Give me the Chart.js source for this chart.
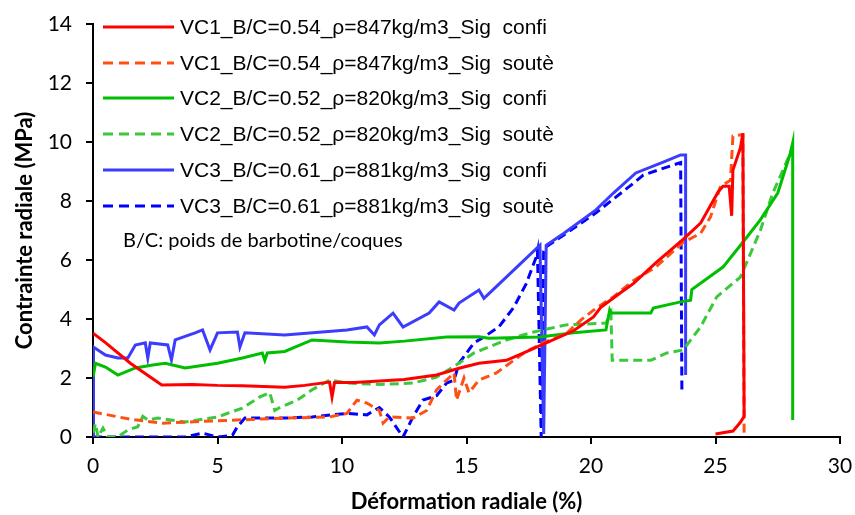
<!DOCTYPE html>
<html>
<head>
<meta charset="utf-8">
<script src="https://cdn.jsdelivr.net/npm/chart.js@4/dist/chart.umd.min.js"></script>
<style>
  html, body { margin: 0; padding: 0; background: #fff; }
  #wrap { width: 855px; height: 515px; }
</style>
</head>
<body>
<div id="wrap"><canvas id="radialChart" width="855" height="515"></canvas></div>
<script>
const xTicks = [0, 5, 10, 15, 20, 25, 30];
const yTicks = [0, 2, 4, 6, 8, 10, 12, 14];

const seriesLabels = [
  "VC1_B/C=0.54_\u03c1=847kg/m3_Sig  confi",
  "VC1_B/C=0.54_\u03c1=847kg/m3_Sig  sout\u00e8",
  "VC2_B/C=0.52_\u03c1=820kg/m3_Sig  confi",
  "VC2_B/C=0.52_\u03c1=820kg/m3_Sig  sout\u00e8",
  "VC3_B/C=0.61_\u03c1=881kg/m3_Sig  confi",
  "VC3_B/C=0.61_\u03c1=881kg/m3_Sig  sout\u00e8"
];
const noteText = "B/C: poids de barbotine/coques";

// VC1 confinement
const vc1ConfiX = [0, 0.5, 1.5, 2.76, 4, 5, 6, 7.7, 8.5, 9.5, 9.6, 9.7, 10.5, 11.5, 12.5, 13.8, 14.7, 15.5, 16.6, 17.3, 17.95, 19.3, 20.1, 20.4, 21.2, 21.7, 22.6, 23.7, 24.4, 25.1, 25.3, 25.55, 25.65, 25.7, 26.0, 26.1, 26.15, 26.0, 25.7, 25.0];
const vc1ConfiY = [3.52, 3.2, 2.5, 1.76, 1.78, 1.75, 1.74, 1.69, 1.75, 1.86, 1.36, 1.85, 1.85, 1.9, 1.95, 2.1, 2.33, 2.5, 2.6, 2.85, 3.1, 3.6, 4.07, 4.4, 4.9, 5.2, 5.9, 6.7, 7.25, 8.3, 8.5, 8.5, 7.5, 9.05, 9.8, 10.3, 0.7, 0.5, 0.2, 0.1];

// VC1 soutenu
const vc1SouteX = [0, 1.5, 2.8, 5, 7.7, 9.5, 10.2, 10.6, 11.0, 11.5, 11.65, 11.9, 12.85, 13.4, 13.8, 14.2, 14.5, 14.6, 14.9, 15.1, 15.5, 16.2, 17.3, 18.1, 19.0, 19.6, 20.1, 20.9, 21.7, 22.6, 23.7, 24.4, 24.8, 25.2, 25.6, 25.7, 26.1, 26.1, 26.15];
const vc1SouteY = [0.85, 0.6, 0.47, 0.55, 0.64, 0.68, 0.8, 1.25, 1.15, 0.9, 0.47, 0.68, 0.64, 0.9, 1.6, 1.93, 2.17, 1.25, 2.0, 1.5, 1.93, 2.17, 2.85, 3.2, 3.5, 3.97, 4.3, 4.75, 5.3, 5.76, 6.6, 6.9, 7.46, 8.5, 8.7, 10.2, 10.25, 9.7, 0.1];

// VC2 confinement
const vc2ConfiX = [0, 0.1, 0.5, 1.0, 1.7, 2.4, 2.9, 3.7, 5.0, 6.0, 6.8, 6.9, 7.0, 7.7, 8.8, 10.2, 11.5, 12.5, 14.2, 15.5, 15.9, 17.95, 19.3, 20.6, 20.75, 20.8, 22.4, 22.5, 23.6, 24.0, 24.05, 25.3, 26.1, 26.8, 27.5, 28.0, 28.1, 28.1];
const vc2ConfiY = [2.03, 2.5, 2.37, 2.1, 2.34, 2.44, 2.5, 2.34, 2.5, 2.68, 2.85, 2.6, 2.85, 2.9, 3.29, 3.22, 3.19, 3.25, 3.39, 3.4, 3.35, 3.39, 3.53, 3.63, 4.3, 4.2, 4.2, 4.37, 4.58, 4.64, 5.0, 5.76, 6.6, 7.36, 8.27, 9.6, 9.97, 0.58];

// VC2 soutenu
const vc2SouteX = [0, 0.1, 0.2, 0.4, 0.6, 1.0, 1.4, 1.8, 2.0, 2.2, 2.6, 3.7, 5.0, 6.0, 6.7, 7.1, 7.3, 7.5, 8.2, 8.8, 9.5, 10.2, 11.5, 12.85, 13.8, 14.7, 15.3, 16.6, 17.7, 19.0, 20.6, 20.8, 20.85, 22.4, 23.05, 23.7, 24.4, 25.05, 26.0, 26.8, 27.3, 28.0, 28.1];
const vc2SouteY = [0.13, 0.45, 0, 0.3, 0, 0, 0.24, 0.35, 0.7, 0.58, 0.64, 0.51, 0.68, 0.98, 1.36, 1.5, 0.9, 1.0, 1.25, 1.6, 1.93, 1.83, 1.78, 1.83, 2.03, 2.5, 2.85, 3.29, 3.56, 3.8, 3.86, 4.2, 2.6, 2.6, 2.85, 2.95, 3.73, 4.75, 5.42, 7.0, 8.27, 9.6, 9.9];

// VC3 confinement
const vc3ConfiX = [0, 0.02, 0.5, 1.0, 1.4, 1.7, 2.1, 2.2, 2.3, 3.0, 3.15, 3.3, 4.1, 4.4, 4.7, 5.0, 5.8, 5.9, 6.1, 7.7, 10.2, 11.0, 11.3, 11.5, 12.05, 12.45, 13.5, 13.9, 14.5, 14.7, 15.5, 15.7, 16.6, 17.95, 18.1, 18.2, 18.9, 20.2, 20.9, 21.8, 22.9, 23.6, 23.8, 23.8];
const vc3ConfiY = [0, 3.05, 2.78, 2.68, 2.68, 3.12, 3.19, 2.68, 3.19, 3.12, 2.61, 3.29, 3.53, 3.63, 2.95, 3.53, 3.56, 3.05, 3.53, 3.46, 3.63, 3.73, 3.46, 3.8, 4.2, 3.73, 4.2, 4.58, 4.3, 4.54, 4.98, 4.7, 5.42, 6.5, 0.1, 6.5, 6.9, 7.7, 8.27, 8.95, 9.32, 9.56, 9.56, 2.1];

// VC3 soutenu
const vc3SouteX = [0, 3.7, 4.4, 5.0, 5.6, 5.8, 6.1, 7.7, 8.8, 10.2, 11.0, 11.5, 11.9, 12.45, 12.85, 13.25, 13.8, 14.2, 14.5, 14.7, 15.3, 15.7, 16.3, 16.9, 17.4, 17.8, 17.85, 18.0, 18.1, 18.2, 19.0, 20.2, 21.7, 22.1, 23.05, 23.6, 23.65];
const vc3SouteY = [0, 0, 0.13, 0, 0.06, 0.35, 0.64, 0.64, 0.68, 0.8, 0.75, 1.0, 0.68, 0, 0.68, 1.25, 1.4, 1.83, 1.93, 2.5, 3.19, 3.39, 3.73, 4.4, 5.2, 6.1, 6.3, 0, 6.3, 6.45, 6.9, 7.6, 8.6, 8.88, 9.15, 9.3, 1.6];

function pts(xs, ys) {
  return xs.map((x, i) => ({ x: x, y: ys[i] }));
}

const DASH = [9, 5];
const datasets = [
  { label: seriesLabels[0], data: pts(vc1ConfiX, vc1ConfiY), borderColor: "rgb(255, 0, 0)", borderDash: [] },
  { label: seriesLabels[1], data: pts(vc1SouteX, vc1SouteY), borderColor: "rgb(255, 80, 20)", borderDash: DASH },
  { label: seriesLabels[2], data: pts(vc2ConfiX, vc2ConfiY), borderColor: "rgb(0, 190, 0)", borderDash: [] },
  { label: seriesLabels[3], data: pts(vc2SouteX, vc2SouteY), borderColor: "rgb(60, 200, 60)", borderDash: DASH },
  { label: seriesLabels[4], data: pts(vc3ConfiX, vc3ConfiY), borderColor: "rgb(60, 60, 255)", borderDash: [] },
  { label: seriesLabels[5], data: pts(vc3SouteX, vc3SouteY), borderColor: "rgb(0, 0, 255)", borderDash: DASH }
].map(d => Object.assign(d, {
  showLine: true,
  pointRadius: 0,
  borderWidth: 3,
  tension: 0,
  fill: false
}));

const TICK_FONT = "Lato, 'Liberation Sans', sans-serif";

// legend drawn inside the plot, one line per series + the B/C note
const insideLegend = {
  id: "insideLegend",
  afterDraw(chart) {
    const ctx = chart.ctx;
    const x0 = 103, x1 = 174, tx = 180;
    const rowY = [27, 63, 98, 134, 170, 206];
    ctx.save();
    ctx.font = "21px 'Liberation Sans', Arial, sans-serif";
    ctx.textBaseline = "middle";
    ctx.fillStyle = "#000";
    chart.data.datasets.forEach((ds, i) => {
      ctx.beginPath();
      ctx.lineWidth = 3;
      ctx.strokeStyle = ds.borderColor;
      ctx.setLineDash(ds.borderDash.length ? [10, 6] : []);
      ctx.moveTo(x0, rowY[i]);
      ctx.lineTo(x1, rowY[i]);
      ctx.stroke();
      ctx.fillText(ds.label, tx, rowY[i] + 1);
    });
    ctx.setLineDash([]);
    ctx.font = "20px Lato, 'Open Sans', sans-serif";
    ctx.fillText(noteText, 123, 241);
    ctx.restore();
  }
};

new Chart(document.getElementById("radialChart"), {
  type: "scatter",
  data: { datasets: datasets },
  options: {
    responsive: false,
    maintainAspectRatio: false,
    animation: false,
    layout: { padding: { top: 24, right: 15, left: 0, bottom: 0 } },
    plugins: {
      legend: { display: false },
      tooltip: { enabled: false }
    },
    scales: {
      x: {
        type: "linear",
        min: 0,
        max: 30,
        afterBuildTicks: (s) => { s.ticks = xTicks.map(v => ({ value: v })); },
        afterFit: (s) => { s.height = 78; s.paddingLeft = 0; s.paddingRight = 0; },
        grid: { display: true, drawOnChartArea: false, drawTicks: true, tickLength: 7, color: "#000", lineWidth: 2 },
        border: { color: "#000", width: 2 },
        ticks: { color: "#000", padding: 10, maxRotation: 0, font: { family: TICK_FONT, size: 21 } },
        title: {
          display: true,
          text: "D\u00e9formation radiale (%)",
          color: "#000",
          padding: { top: 8, bottom: 0 },
          font: { family: TICK_FONT, size: 22, weight: "bold" }
        }
      },
      y: {
        type: "linear",
        min: 0,
        max: 14,
        afterBuildTicks: (s) => { s.ticks = yTicks.map(v => ({ value: v })); },
        afterFit: (s) => { s.width = 93; s.paddingTop = 0; s.paddingBottom = 0; },
        grid: { display: true, drawOnChartArea: false, drawTicks: true, tickLength: 7, color: "#000", lineWidth: 2 },
        border: { color: "#000", width: 2 },
        ticks: { color: "#000", padding: 14, font: { family: TICK_FONT, size: 21 } },
        title: {
          display: true,
          text: "Contrainte radiale (MPa)",
          color: "#000",
          padding: { top: 12, bottom: 0 },
          font: { family: TICK_FONT, size: 22, weight: "bold" }
        }
      }
    }
  },
  plugins: [insideLegend]
});
</script>
</body>
</html>
